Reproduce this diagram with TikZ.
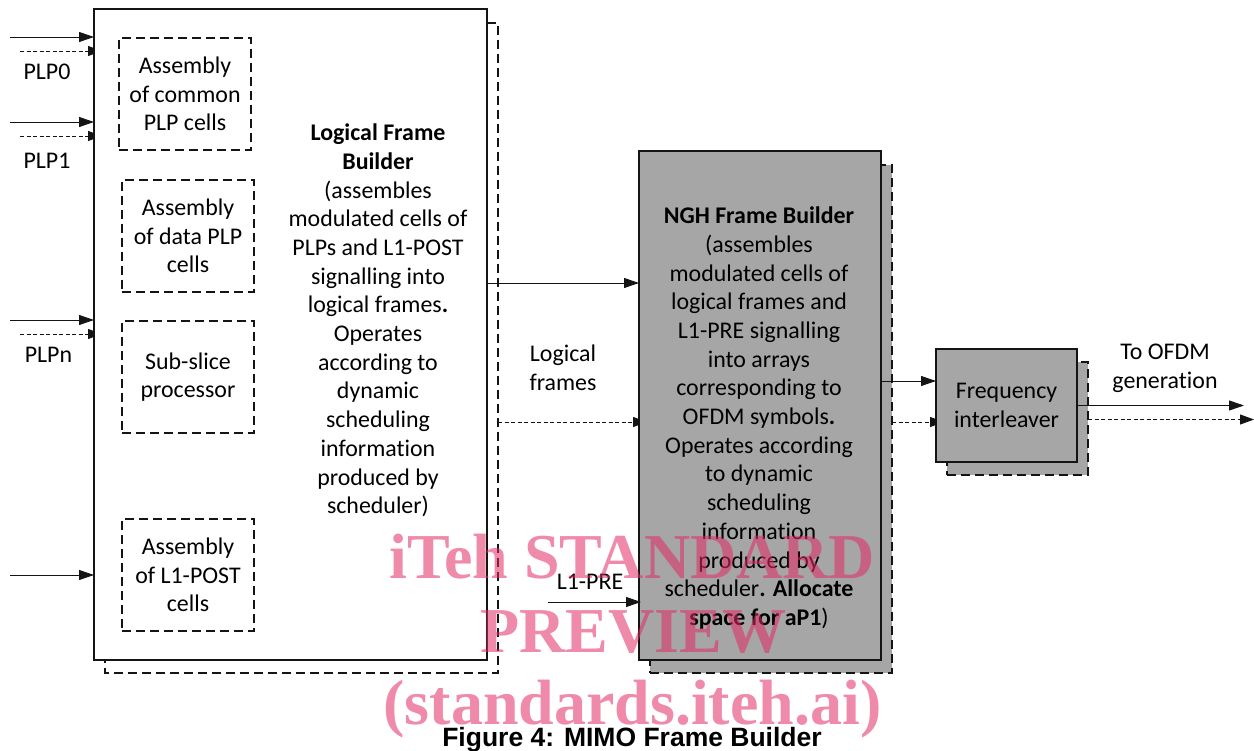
\documentclass[tikz,border=0pt]{standalone}
\usepackage{fontspec}
\setmainfont{Carlito}[Ligatures=CommonOff]
\newfontfamily\capfont{Liberation Sans}
\newfontfamily\wmfont{Liberation Serif}
\usetikzlibrary{arrows.meta}
\pgfdeclarelayer{under}
\pgfsetlayers{under,main}
\definecolor{boxgray}{RGB}{166,166,166}
\definecolor{wmpink}{RGB}{227,42,100}
\definecolor{linek}{RGB}{20,20,20}
\tikzset{
  lbl/.style={inner sep=0pt,outer sep=0pt,align=center,text=black,font=\fontsize{23.9}{28.7}\selectfont},
  mainbox/.style={draw=linek,line width=1.05pt,inner sep=0pt,outer sep=0pt,anchor=north west},
  dashbox/.style={draw=linek,line width=1.05pt,dash pattern=on 9pt off 5pt,inner sep=0pt,outer sep=0pt,anchor=north west,
    minimum width=132pt,minimum height=112pt,align=center,font=\fontsize{23.9}{28.7}\selectfont},
  shadowbox/.style={draw=linek,line width=1.05pt,dash pattern=on 9pt off 5pt,inner sep=0pt,outer sep=0pt,anchor=north west},
  flow/.style={draw=linek,line width=0.9pt,-{Triangle[length=15pt,width=10pt]}},
  flowd/.style={draw=linek,line width=0.9pt,dash pattern=on 4pt off 2.5pt,-{Triangle[length=14pt,width=10pt]}},
  wm/.style={inner sep=0pt,align=center,text=wmpink,text opacity=0.55,font=\wmfont\bfseries\fontsize{64}{70}\selectfont},
}
\begin{document}
\begin{tikzpicture}[x=1pt,y=-1pt]
\useasboundingbox (0,0) rectangle (1254,751);
% shadow outlines
\draw[shadowbox] (487,23) -- (498,23) -- (498,673) -- (105,673) -- (105,660);
\node[shadowbox,fill=boxgray,minimum width=242pt,minimum height=508pt] (ngs) at (650,165) {};
\node[shadowbox,fill=boxgray,minimum width=141pt,minimum height=113pt] (frs) at (947,362) {};
% main boxes
\node[mainbox,fill=white,minimum width=393pt,minimum height=651pt] (main) at (94,9) {};
\node[mainbox,fill=boxgray,minimum width=242pt,minimum height=509pt] (ngh) at (639,151) {};
\node[mainbox,fill=boxgray,minimum width=141pt,minimum height=113pt,align=center,font=\fontsize{23.9}{28.7}\selectfont] (fri) at (936,349) {Frequency\\interleaver};
% inner dashed boxes
\node[dashbox] (ac) at (119,38) {Assembly\\of common\\PLP cells};
\node[dashbox] (ad) at (122,180) {Assembly\\of data PLP\\cells};
\node[dashbox] (ss) at (122,321) {Sub-slice\\processor};
\node[dashbox] (al) at (122,519) {Assembly\\of L1-POST\\cells};
% long texts
\node[lbl] (tmain) at (378,320.5) {\textbf{Logical Frame}\\\textbf{Builder}\\(assembles\\modulated cells of\\PLPs and L1-POST\\signalling into\\logical frames\textbf{.}\\Operates\\according to\\dynamic\\scheduling\\information\\produced by\\scheduler)};
\node[lbl] (tngh) at (759,418) {\textbf{NGH Frame Builder}\\(assembles\\modulated cells of\\logical frames and\\L1-PRE signalling\\into arrays\\corresponding to\\OFDM symbols\textbf{.}\\Operates according\\to dynamic\\scheduling\\information\\produced by\\scheduler\textbf{. Allocate}\\\textbf{space for aP1})};
% labels
\node[lbl] (l0) at (47,71.5) {PLP0};
\node[lbl] (l1) at (47,161) {PLP1};
\node[lbl] (ln) at (48.5,355) {PLPn};
\node[lbl] (lf) at (563,368) {Logical\\frames};
\node[lbl] (lp) at (590,581.5) {L1-PRE};
\node[lbl] (lo) at (1165,368) {To OFDM\\generation};
% free ends
\coordinate (a0) at (10,37);
\coordinate (b0) at (20,51);
\coordinate (a1) at (10,122);
\coordinate (b1) at (20,136);
\coordinate (an) at (10,320);
\coordinate (bn) at (20,334);
\coordinate (ap) at (10,575);
\coordinate (lfa) at (487,283);
\coordinate (lfb) at (498,422);
\coordinate (pre) at (548,602);
\coordinate (nfa) at (881,381);
\coordinate (nfb) at (892,422);
\coordinate (oa) at (1077,405.5);
\coordinate (ob) at (1088,419.5);
\coordinate (oae) at (1244,405.5);
\coordinate (obe) at (1254,419.5);
% dashed connectors pass under the box they enter
\begin{pgfonlayer}{under}
\draw[flowd,shorten >=-8pt] (b0) -- (b0 -| main.west);
\draw[flowd,shorten >=-8pt] (b1) -- (b1 -| main.west);
\draw[flowd,shorten >=-8pt] (bn) -- (bn -| main.west);
\draw[flowd,shorten >=-8pt] (lfb) -- (lfb -| ngh.west);
\draw[flowd,shorten >=-8pt] (nfb) -- (nfb -| fri.west);
\end{pgfonlayer}
% connectors
\draw[flow] (a0) -- (a0 -| main.west);
\draw[flow] (a1) -- (a1 -| main.west);
\draw[flow] (an) -- (an -| main.west);
\draw[flow] (ap) -- (ap -| main.west);
\draw[flow] (lfa) -- (lfa -| ngh.west);
\draw[flow,shorten >=-2pt] (pre) -- (pre -| ngh.west);
\draw[flow] (nfa) -- (nfa -| fri.west);
\draw[flow] (oa) -- (oae);
\draw[flowd] (ob) -- (obe);
% caption
\node[inner sep=0pt,font=\capfont\bfseries\fontsize{26.5}{28}\selectfont] (cap) at (632,740) {Figure 4: MIMO Frame Builder};
% watermark
\node[wm] (w1) at (632.5,556.5) {iTeh STANDARD};
\node[wm] (w2) at (633.5,632) {PREVIEW};
\node[wm] (w3) at (632.5,709) {(standards.iteh.ai)};
\end{tikzpicture}
\end{document}
